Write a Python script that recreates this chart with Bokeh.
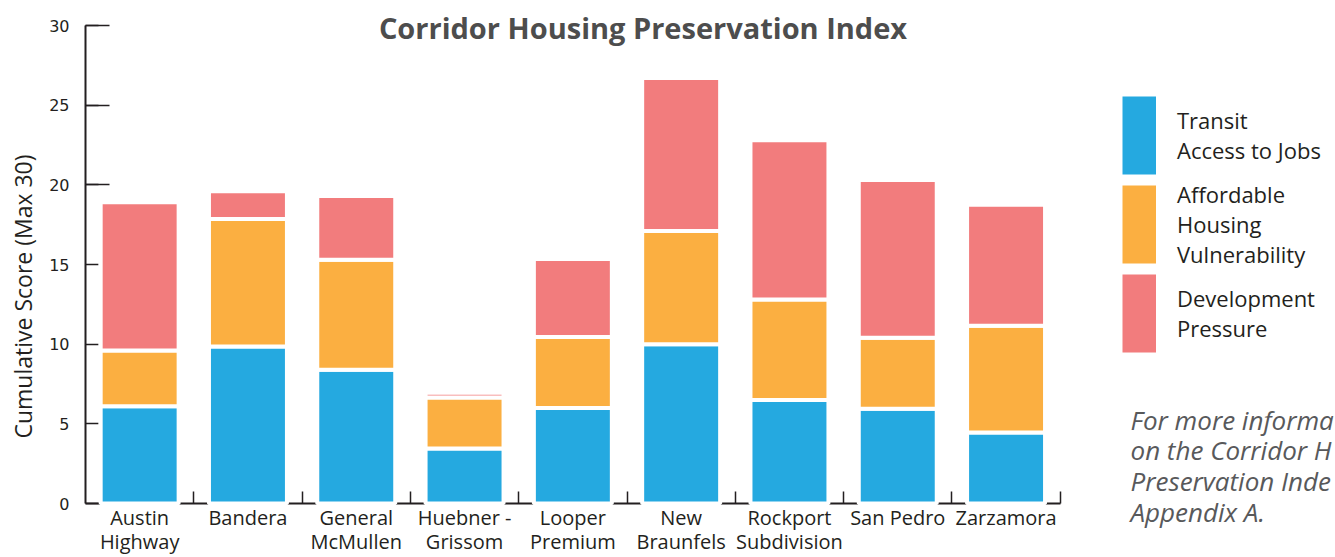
import math
from bokeh.plotting import figure
from bokeh.layouts import row, column
from bokeh.models import Range1d, FixedTicker, Legend, LegendItem, Label, ColumnDataSource
from bokeh.embed import file_html
from bokeh.resources import INLINE

categories = ["Austin\nHighway", "Bandera", "General\nMcMullen", "Huebner -\nGrissom",
              "Looper\nPremium", "New\nBraunfels", "Rockport\nSubdivision", "San Pedro", "Zarzamora"]
transit = [6.1, 9.85, 8.4, 3.45, 6.0, 10.0, 6.5, 5.95, 4.45]
affordable = [3.5, 8.0, 6.9, 3.2, 4.45, 7.1, 6.3, 4.45, 6.7]
development = [9.3, 1.75, 4.0, 0.3, 4.9, 9.6, 10.0, 9.9, 7.6]
series_names = ["Transit\nAccess to Jobs", "Affordable\nHousing\nVulnerability", "Development\nPressure"]
colors = ["#25A9E0", "#FBAF41", "#F27C7D"]
y_ticks = [0, 5, 10, 15, 20, 25, 30]
y_long_ticks = [20, 25, 30]
y_max = 30
title_text = "Corridor Housing Preservation Index"
y_label = "Cumulative Score (Max 30)"
# the note as it is visible in the reference (cut by the picture's right edge)
note_text = "For more informa\non the Corridor H\nPreservation Inde\nAppendix A."

n = len(categories)
centers = [i + 0.5 for i in range(n)]
bounds = list(range(1, n + 1))

src = ColumnDataSource(dict(x=centers, transit=transit, affordable=affordable, development=development))

TEXT = "#231f20"
FONT = "Open Sans"
H = 557


def bare(width):
    f = figure(width=width, height=H, x_range=Range1d(0, 1), y_range=Range1d(0, 1),
               x_axis_location=None, y_axis_location=None, output_backend="svg",
               toolbar_location=None, min_border=0)
    f.title.visible = False
    f.outline_line_color = None
    f.grid.visible = False
    return f


# ---- left strip: y axis title ----
left = bare(45)
left.add_layout(Label(x=22, y=261, x_units="screen", y_units="screen", text=y_label,
                      angle=math.pi / 2, text_align="center", text_baseline="middle",
                      text_font=FONT, text_font_size="23px", text_color=TEXT))

# ---- main chart ----
p = figure(width=1055, height=H, x_range=Range1d(0, n + 0.372), y_range=Range1d(0, y_max + 1.57),
           output_backend="svg", toolbar_location=None,
           min_border_left=40, min_border_right=0, min_border_top=0, min_border_bottom=50)
p.title.visible = False
p.outline_line_color = None
p.grid.visible = False

rs = p.vbar_stack(["transit", "affordable", "development"], x="x", width=0.72, source=src,
                  fill_color=colors, line_color="white", line_width=4)
for r in rs:
    r.level = "annotation"

xa = p.xaxis[0]
xa.bounds = (0, n)
xa.ticker = FixedTicker(ticks=centers, minor_ticks=bounds)
xa.major_label_overrides = {c: lab for c, lab in zip(centers, categories)}
xa.major_tick_line_color = None
xa.major_tick_in = 0
xa.major_tick_out = 0
xa.minor_tick_in = 12
xa.minor_tick_out = 0
xa.minor_tick_line_color = TEXT
xa.minor_tick_line_width = 1.5
xa.axis_line_color = TEXT
xa.axis_line_width = 2
xa.major_label_text_font = FONT
xa.major_label_text_font_size = "20px"
xa.major_label_text_color = TEXT
xa.major_label_text_line_height = 0.9
xa.major_label_standoff = 0

ya = p.yaxis[0]
ya.bounds = (0, y_max)
ya.ticker = FixedTicker(ticks=y_ticks, minor_ticks=y_long_ticks)
ya.major_tick_in = 13
ya.major_tick_out = 0
ya.minor_tick_in = 24
ya.minor_tick_out = 0
ya.major_tick_line_color = TEXT
ya.minor_tick_line_color = TEXT
ya.major_tick_line_width = 1.5
ya.minor_tick_line_width = 1.5
ya.axis_line_color = TEXT
ya.axis_line_width = 2
ya.major_label_text_font = "DejaVu Sans"
ya.major_label_text_font_size = "16px"
ya.major_label_text_color = TEXT
ya.major_label_standoff = 16

p.add_layout(Label(x=557.5, y=476.5, x_units="screen", y_units="screen", text=title_text,
                   text_align="center", text_baseline="alphabetic", text_font=FONT,
                   text_font_size="29px", text_font_style="bold", text_color="#4d4d4d"))

# ---- right strip: legend and note ----
side = bare(235)
swatches = [side.line(x=[-1], y=[-1], line_color=c, line_width=78, line_cap="butt") for c in colors]
items = [LegendItem(label=name, renderers=[r]) for name, r in zip(series_names, swatches)]
legend = Legend(items=items, location=(22, 200), glyph_width=34, glyph_height=88,
                spacing=0, label_standoff=21, padding=0, margin=0,
                border_line_color=None, background_fill_alpha=0,
                label_text_font=FONT, label_text_font_size="22px", label_text_color=TEXT)
side.add_layout(legend)
side.add_layout(Label(x=30, y=156, x_units="screen", y_units="screen", text=note_text,
                      text_align="left", text_baseline="top", text_font=FONT,
                      text_font_size="26px", text_font_style="italic", text_color="#58595b",
                      text_line_height=0.86))

layout = row(column(left), p, column(side))
open("out.html", "w").write(file_html(layout, INLINE))
